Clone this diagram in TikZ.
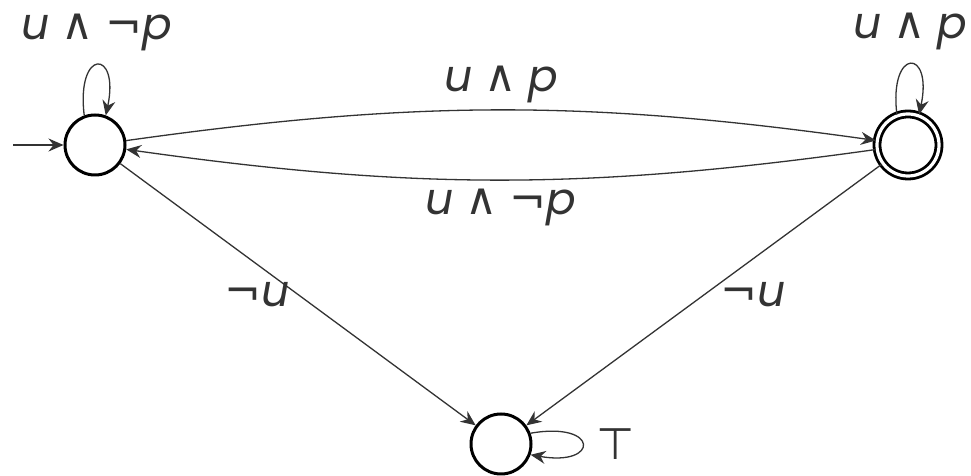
\documentclass[tikz,border=0pt]{standalone}
\usepackage{fontspec}
\setmainfont{Poppins}
\newfontfamily\symfont{DejaVu Sans}
\usetikzlibrary{arrows.meta,positioning}
\definecolor{edgegray}{RGB}{51,51,51}

\newcommand{\wedg}{{\symfont\char"2227}}
\newcommand{\lnotsym}{{\symfont\char"00AC}}
\newcommand{\topsym}{{\symfont\char"22A4}}
\newcommand{\var}[1]{{\itshape #1}}

\begin{document}
\begin{tikzpicture}[x=0.5pt, y=0.5pt, >={Stealth[length=7.5pt,width=6.5pt,inset=2.5pt]},
    state/.style={circle, draw=black, line width=1.5pt, minimum size=30pt, inner sep=0pt},
    accepting/.style={double, line width=1.4pt, double distance=1.6pt, minimum size=31pt},
    trans/.style={draw=edgegray, line width=0.65pt},
    lab/.style={font=\fontsize{22}{26}\selectfont, text=edgegray, inner sep=2pt}]
    \useasboundingbox (0,0) rectangle (971,476);

    % states
    \node[state] (q0) at (95,331) {};
    \node[state, accepting] (q1) at (908,331) {};
    \node[state] (q2) at (501,32) {};
    \coordinate (start) at (13,331);

    % initial arrow
    \draw[trans,->] (start) -- (q0);

    % self loops
    \draw[trans,->] (q0.110) .. controls +(97:68) and +(78:68) .. (q0.70)
        node[lab, pos=0.5, above=5pt] {\var{u} \wedg\ \lnotsym\var{p}};
    \draw[trans,->] (q1.110) .. controls +(97:68) and +(78:68) .. (q1.70)
        node[lab, pos=0.5, above=5pt] {\var{u} \wedg\ \var{p}};
    \draw[trans,->] (q2.20) .. controls +(10:70) and +(-10:70) .. (q2.-20)
        node[lab, pos=0.5, right=5pt] {\topsym};

    % between the two upper states
    \draw[trans,->] (q0) to[bend left=8]
        node[lab, midway, above=1pt] {\var{u} \wedg\ \var{p}} (q1);
    \draw[trans,->] (q1) to[bend left=8]
        node[lab, midway, below=2pt] {\var{u} \wedg\ \lnotsym\var{p}} (q0);

    % into the sink
    \draw[trans,->] (q0) -- node[lab, midway, left=2pt] {\lnotsym\var{u}} (q2);
    \draw[trans,->] (q1) -- node[lab, midway, right=6pt] {\lnotsym\var{u}} (q2);
\end{tikzpicture}
\end{document}
